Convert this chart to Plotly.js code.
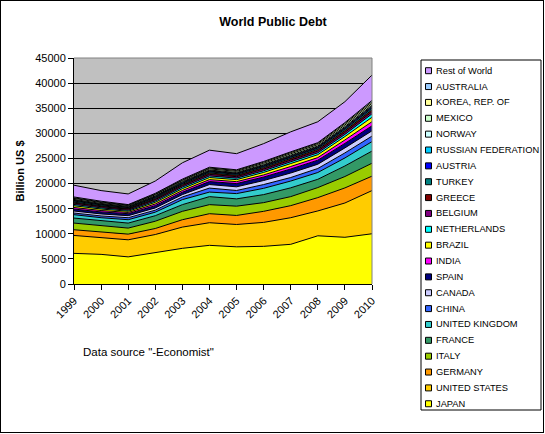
<!DOCTYPE html>
<html>
<head>
<meta charset="utf-8">
<script src="https://cdn.plot.ly/plotly-3.0.1.min.js"></script>
<style>
  html, body { margin: 0; padding: 0; background: #fff; }
  #wrap { position: relative; width: 545px; height: 434px; }
  #chart { position: absolute; left: 0; top: 0; width: 545px; height: 434px; }
  #frame { position: absolute; left: 0; top: 0; width: 542px; height: 431px; border: 1px solid #000; pointer-events: none; }
</style>
</head>
<body>
<div id="wrap"><div id="chart"></div><div id="frame"></div></div>
<script>
// ---- Data (billion US $) ----
const years = [1999, 2000, 2001, 2002, 2003, 2004, 2005, 2006, 2007, 2008, 2009, 2010];

const japan       = [6100, 5900, 5400, 6300, 7100, 7700, 7400, 7500, 7900, 9600, 9300, 10000];
const unitedStates= [3570, 3300, 3400, 3550, 4230, 4500, 4450, 4770, 5300, 4950, 6830, 8600];
const germany     = [1130, 1100, 1130, 1200, 1470, 1800, 1800, 2200, 2400, 2650, 3000, 2870];
const italy       = [1330, 1300, 1200, 1450, 1670, 1800, 1850, 1730, 1800, 2000, 2270, 2580];
const france      = [1000, 1000, 1000, 1100, 1330, 1600, 1450, 1600, 1750, 1650, 2100, 2420];
const unitedKingdom = [670, 600, 670, 700, 1000, 900, 1050, 1250, 1350, 1350, 1600, 1880];
const china       = [330, 350, 400, 400, 530, 800, 620, 750, 700, 800, 1000, 1100];
const canada      = [400, 400, 400, 450, 470, 700, 730, 800, 900, 850, 1000, 1050];
const spain       = [400, 400, 400, 450, 470, 600, 650, 700, 800, 800, 900, 1000];
const india       = [300, 280, 250, 330, 350, 380, 380, 420, 500, 520, 680, 820];
const brazil      = [350, 300, 240, 330, 370, 420, 400, 500, 580, 580, 680, 880];
const netherlands = [260, 230, 200, 270, 300, 320, 300, 330, 350, 370, 430, 680];
const belgium     = [260, 230, 210, 270, 290, 310, 290, 320, 340, 340, 380, 410];
const greece      = [200, 180, 160, 220, 250, 280, 270, 300, 330, 330, 370, 390];
const turkey      = [220, 190, 160, 200, 200, 220, 210, 230, 250, 260, 300, 340];
const austria     = [120, 110, 100, 130, 140, 150, 140, 160, 170, 180, 210, 240];
const russia      = [120, 100, 70, 120, 110, 100, 90, 80, 90, 90, 120, 150];
const norway      = [80, 70, 60, 90, 100, 120, 120, 140, 150, 160, 180, 210];
const mexico      = [200, 180, 160, 200, 200, 220, 220, 250, 270, 270, 310, 340];
const korea       = [120, 110, 90, 140, 150, 180, 180, 210, 230, 230, 280, 310];
const australia   = [170, 150, 110, 150, 150, 150, 140, 160, 160, 160, 200, 280];
const restOfWorld = [2340, 2120, 2120, 2450, 3250, 3400, 3210, 3550, 3980, 4160, 4160, 5050];

// stacking order: bottom to top
const seriesNames = ["JAPAN", "UNITED STATES", "GERMANY", "ITALY", "FRANCE", "UNITED KINGDOM",
  "CHINA", "CANADA", "SPAIN", "INDIA", "BRAZIL", "NETHERLANDS", "BELGIUM", "GREECE", "TURKEY",
  "AUSTRIA", "RUSSIAN FEDERATION", "NORWAY", "MEXICO", "KOREA, REP. OF", "AUSTRALIA", "Rest of World"];
const seriesValues = [japan, unitedStates, germany, italy, france, unitedKingdom, china, canada,
  spain, india, brazil, netherlands, belgium, greece, turkey, austria, russia, norway, mexico,
  korea, australia, restOfWorld];
const seriesColors = ["#FFFF00", "#FFCC00", "#FF9900", "#99CC00", "#339966", "#33CCCC",
  "#3366FF", "#CCCCFF", "#000080", "#FF00FF", "#FFFF00", "#00FFFF", "#800080", "#800000", "#008080",
  "#0000FF", "#00CCFF", "#CCFFFF", "#CCFFCC", "#FFFF99", "#99CCFF", "#CC99FF"];

const FONT = "Liberation Sans, Arial, sans-serif";

const traces = seriesNames.map((n, i) => ({
  type: "scatter", mode: "lines", x: years, y: seriesValues[i], name: n,
  stackgroup: "one", line: { color: "#000000", width: 1 },
  fillcolor: seriesColors[i], showlegend: false, hoverinfo: "skip"
}));

// plot area geometry (pixels)
const L = 74, T = 58, W = 298, H = 226;
const px = v => (v - L) / W;
const py = v => (T + H - v) / H;

const shapes = [
  { type: "line", xref: "paper", yref: "paper", x0: 0, x1: 1, y0: 1, y1: 1, line: { color: "#808080", width: 1 }, layer: "above" },
  { type: "line", xref: "paper", yref: "paper", x0: 1, x1: 1, y0: 0, y1: 1, line: { color: "#808080", width: 1 }, layer: "above" },
  { type: "rect", xref: "paper", yref: "paper", x0: px(421), x1: px(541), y0: py(410), y1: py(60),
    line: { color: "#000", width: 1 }, fillcolor: "#ffffff", layer: "above" }
];
const annotations = [];
const legendOrder = seriesNames.map((n, i) => i).reverse();
legendOrder.forEach((idx, k) => {
  const cy = 70.7 + k * 15.86;
  shapes.push({ type: "rect", xref: "paper", yref: "paper", x0: px(425.5), x1: px(431.5),
    y0: py(cy + 3), y1: py(cy - 3), line: { color: "#000", width: 1 }, fillcolor: seriesColors[idx], layer: "above" });
  annotations.push({ xref: "paper", yref: "paper", x: px(433.5), y: py(cy), xanchor: "left", yanchor: "middle",
    showarrow: false, text: seriesNames[idx], font: { family: FONT, size: 9.3, color: "#000" } });
});
annotations.push({ xref: "paper", yref: "paper", x: px(81), y: py(352), xanchor: "left", yanchor: "middle",
  showarrow: false, text: 'Data source "-Economist"', font: { family: FONT, size: 11.5, color: "#000" } });

const layout = {
  width: 545, height: 434,
  margin: { l: L, r: 545 - L - W, t: T, b: 434 - T - H, pad: 0 },
  paper_bgcolor: "#ffffff", plot_bgcolor: "#C0C0C0",
  font: { family: FONT, color: "#000" },
  title: { text: "<b>World Public Debt</b>", font: { family: FONT, size: 12.5, color: "#000" },
    xref: "container", yref: "container", x: 273 / 545, y: 1 - 21.3 / 434, xanchor: "center", yanchor: "middle" },
  xaxis: {
    type: "linear", range: [1999, 2010], tickvals: years, ticktext: years.map(String),
    tickangle: -45, ticks: "outside", ticklen: 5, tickcolor: "#000", tickwidth: 1,
    showline: true, linecolor: "#000", linewidth: 1, showgrid: false, zeroline: false,
    tickfont: { family: FONT, size: 11, color: "#000" }, fixedrange: true
  },
  yaxis: {
    range: [0, 45000], dtick: 5000, tick0: 0, tickformat: "d",
    ticks: "outside", ticklen: 5, tickcolor: "#000", tickwidth: 1,
    showline: true, linecolor: "#000", linewidth: 1,
    showgrid: true, gridcolor: "#000", gridwidth: 1, zeroline: false,
    tickfont: { family: FONT, size: 11, color: "#000" },
    title: { text: "<b>Billion US $</b>", font: { family: FONT, size: 11, color: "#000" }, standoff: 8 },
    fixedrange: true
  },
  shapes: shapes,
  annotations: annotations,
  showlegend: false
};

Plotly.newPlot("chart", traces, layout, { staticPlot: true, displayModeBar: false });
</script>
</body>
</html>
